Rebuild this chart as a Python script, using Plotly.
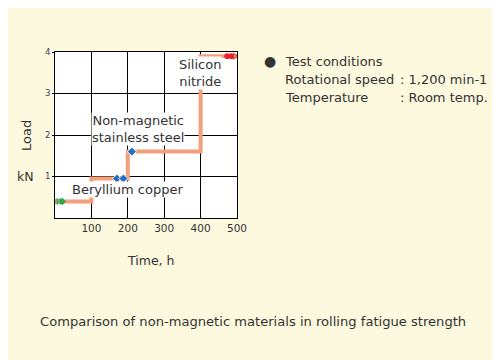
import plotly.graph_objects as go

# Data
step_time = [0, 100, 200, 400, 500]
step_load = [0.4, 0.95, 1.6, 3.9, 3.9]

be_time = [3, 11, 20]
be_load = [0.4, 0.4, 0.4]
be_symbols = ["triangle-left-open", "triangle-left-open", "diamond"]

ss_time = [170, 188, 211]
ss_load = [0.95, 0.95, 1.6]

si_time = [473, 484, 494]
si_load = [3.9, 3.9, 3.9]
si_symbols = ["circle", "circle", "triangle-right-open"]

x_ticks = [100, 200, 300, 400, 500]
y_ticks = [1, 2, 3, 4]

BG = "#fdf9df"
FONT = "DejaVu Sans, Verdana, sans-serif"
TXT = "#333333"

fig = go.Figure()
fig.add_trace(go.Scatter(x=step_time, y=step_load, mode="lines", line_shape="hv",
                         line=dict(color="#f2a07c", width=4), hoverinfo="skip"))
fig.add_trace(go.Scatter(x=be_time, y=be_load, mode="markers",
                         marker=dict(symbol=be_symbols, size=5, color="#2ca84a",
                                     line=dict(color="#2ca84a", width=1))))
fig.add_trace(go.Scatter(x=ss_time, y=ss_load, mode="markers",
                         marker=dict(symbol="diamond", size=7, color="#2a6fc4",
                                     line=dict(color="white", width=1))))
fig.add_trace(go.Scatter(x=si_time, y=si_load, mode="markers",
                         marker=dict(symbol=si_symbols, size=5, color="#e8202a",
                                     line=dict(color="#e8202a", width=1))))

labels = [
    (397, 3.49, "Silicon<br>nitride"),
    (229, 2.14, "Non-magnetic<br>stainless steel"),
    (198, 0.69, "Beryllium copper"),
]
for x, y, t in labels:
    fig.add_annotation(x=x, y=y, xref="x", yref="y", text=t, showarrow=False,
                       font=dict(size=13, color=TXT, family=FONT),
                       bgcolor="white", borderpad=0)

# positions are measured in window pixels; plot area spans x 55..237, y 52..218
def px(xp):
    return (xp - 55) / 182.0

def py(yp):
    return (218 - yp) / 166.0

notes = [
    (270, 61, "●", "center", 14),
    (283, 61, "Test conditions", "left", 13),
    (283, 79, "Rotational speed", "left", 13),
    (398, 79, ": 1,200 min-1", "left", 13),
    (283, 97, "Temperature", "left", 13),
    (398, 97, ": Room temp.", "left", 13),
    (150, 260, "Time, h", "center", 12.5),
    (25, 176, "kN", "center", 12.5),
    (253, 321, "Comparison of non-magnetic materials in rolling fatigue strength", "center", 13.1),
]
for x, y, t, al, s in notes:
    fig.add_annotation(x=px(x), y=py(y), xref="paper", yref="paper", text=t,
                       showarrow=False, xanchor=al, yanchor="middle",
                       font=dict(size=s, color=TXT, family=FONT))
fig.add_annotation(x=px(26), y=py(136), xref="paper", yref="paper", text="Load",
                   showarrow=False, textangle=-90, xanchor="center", yanchor="middle",
                   font=dict(size=13, color=TXT, family=FONT))

fig.update_xaxes(range=[0, 500], tickvals=x_ticks, showgrid=True, gridcolor="black",
                 gridwidth=1, showline=True, linecolor="black", linewidth=1, mirror=True,
                 zeroline=False, ticks="", tickfont=dict(size=10.5, color=TXT, family=FONT),
                 fixedrange=True)
fig.update_yaxes(range=[0, 4], tickvals=y_ticks, showgrid=True, gridcolor="black",
                 gridwidth=1, showline=True, linecolor="black", linewidth=1, mirror=True,
                 zeroline=False, ticks="outside", ticklen=2, tickcolor="black",
                 tickfont=dict(size=8.5, color="#3a3a6e", family=FONT), fixedrange=True)

# the page body adds an 8px offset, so the figure is 492x352 with margins reduced by 8
fig.update_layout(width=492, height=352, margin=dict(l=47, r=263, t=44, b=142),
                  paper_bgcolor=BG, plot_bgcolor="white", showlegend=False,
                  font=dict(family=FONT))

fig.write_html("out.html")
